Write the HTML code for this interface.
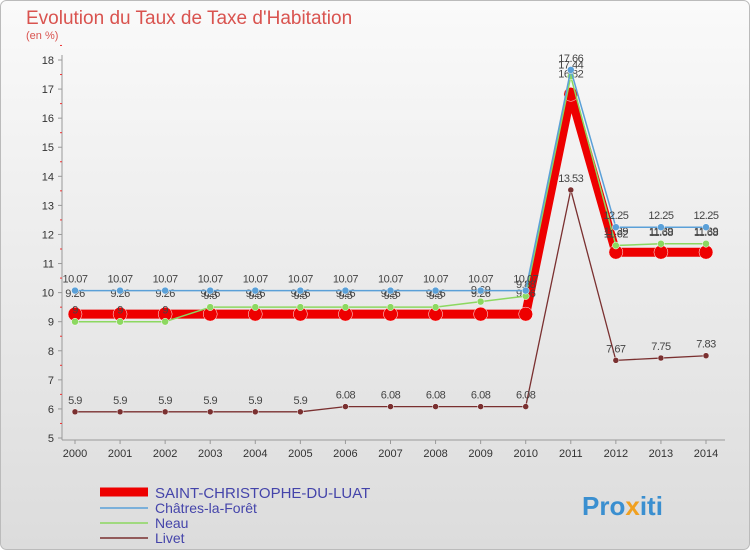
<!DOCTYPE html>
<html><head><meta charset="utf-8"><style>
body{margin:0;width:750px;height:550px;overflow:hidden;font-family:"Liberation Sans",sans-serif}
</style></head><body>
<svg width="750" height="550" viewBox="0 0 750 550" xmlns="http://www.w3.org/2000/svg">
<defs><linearGradient id="bg" x1="0" y1="0" x2="0" y2="1"><stop offset="0" stop-color="#fafafa"/><stop offset="1" stop-color="#dcdcdc"/></linearGradient></defs>
<rect x="0.5" y="0.5" width="749" height="549" rx="6" fill="url(#bg)" stroke="#bbb"/>
<text x="26" y="24" font-size="19" fill="#d9534f">Evolution du Taux de Taxe d'Habitation</text>
<text x="26" y="39" font-size="11" fill="#d9534f">(en %)</text>
<g id="axes"></g>
<g id="series"></g>
<g>
<line x1="100" y1="492" x2="148" y2="492" stroke="#e00" stroke-width="9"/>
<text x="155" y="498" font-size="15" fill="#44a">SAINT-CHRISTOPHE-DU-LUAT</text>
<line x1="100" y1="508" x2="148" y2="508" stroke="#5aa0d8" stroke-width="1.5"/>
<text x="155" y="513" font-size="14" fill="#44a">Châtres-la-Forêt</text>
<line x1="100" y1="523" x2="148" y2="523" stroke="#8cd860" stroke-width="1.5"/>
<text x="155" y="528" font-size="14" fill="#44a">Neau</text>
<line x1="100" y1="538" x2="148" y2="538" stroke="#7a3030" stroke-width="1.5"/>
<text x="155" y="543" font-size="14" fill="#44a">Livet</text>
</g>
<text x="582" y="515" font-size="26" font-weight="bold" fill="#3a8fd0">Pro<tspan fill="#f0a020">x</tspan>iti</text>
</svg>
<script>
const years=[2000,2001,2002,2003,2004,2005,2006,2007,2008,2009,2010,2011,2012,2013,2014];
const yTicks=[5,6,7,8,9,10,11,12,13,14,15,16,17,18];
const saint=[9.26,9.26,9.26,9.26,9.26,9.26,9.26,9.26,9.26,9.26,9.26,16.82,11.39,11.39,11.39];
const chatres=[10.07,10.07,10.07,10.07,10.07,10.07,10.07,10.07,10.07,10.07,10.07,17.66,12.25,12.25,12.25];
const neau=[9,9,9,9.5,9.5,9.5,9.5,9.5,9.5,9.69,9.88,17.44,11.62,11.68,11.68];
const livet=[5.9,5.9,5.9,5.9,5.9,5.9,6.08,6.08,6.08,6.08,6.08,13.53,7.67,7.75,7.83];
const NS="http://www.w3.org/2000/svg";
const X=i=>75+i*(706-75)/14;
const Y=v=>438-(v-5)*(438-60)/13;
function mk(t,a,p){const e=document.createElementNS(NS,t);for(const k in a)e.setAttribute(k,a[k]);p.appendChild(e);return e;}
const ax=document.getElementById('axes');
const ya=mk('line',{x1:62,y1:55,x2:62,y2:440,stroke:'#999'},ax);


const xa=mk('line',{x1:62,y1:440,x2:725,y2:440,stroke:'#999'},ax);


yTicks.forEach(v=>{
  mk('line',{x1:58,y1:Y(v),x2:62,y2:Y(v),stroke:'#999'},ax);
  const t=mk('text',{x:54,y:Y(v)+4,'font-size':11,'text-anchor':'end',fill:'#333'},ax);t.textContent=v;
  
  
  mk('line',{x1:60,y1:Y(v+0.5),x2:62,y2:Y(v+0.5),stroke:'#e33'},ax);
});
years.forEach((yr,i)=>{
  mk('line',{x1:X(i),y1:440,x2:X(i),y2:444,stroke:'#999'},ax);
  const t=mk('text',{x:X(i),y:457,'font-size':11,'text-anchor':'middle',fill:'#333'},ax);t.textContent=yr;
  
  
});
const sg=document.getElementById('series');
function draw(data,color,w,r,name,lblDy){
  const g=mk('g',{},sg);
  
  
  mk('polyline',{points:data.map((v,i)=>X(i)+','+Y(v)).join(' '),fill:'none',stroke:color,'stroke-width':w,'stroke-linejoin':'round'},g);
  data.forEach((v,i)=>{
    const c=mk('circle',{cx:X(i),cy:Y(v),r:r,fill:color,stroke:'#fff','stroke-width':0.5},g);
    
    
    const t=mk('text',{x:X(i),y:Y(v)+lblDy,'font-size':11,'text-anchor':'middle',fill:'#444','letter-spacing':'-0.5'},g);t.textContent=v;
    
    
  });
}
draw(livet,'#7a3030',1.3,3,'livet-series',-8);
draw(saint,'#e00',9,7,'saint-christophe-series',-17);
draw(neau,'#8cd860',1.5,3.5,'neau-series',-8);
draw(chatres,'#5aa0d8',1.5,3.5,'chatres-series',-8);
</script>
</body></html>
